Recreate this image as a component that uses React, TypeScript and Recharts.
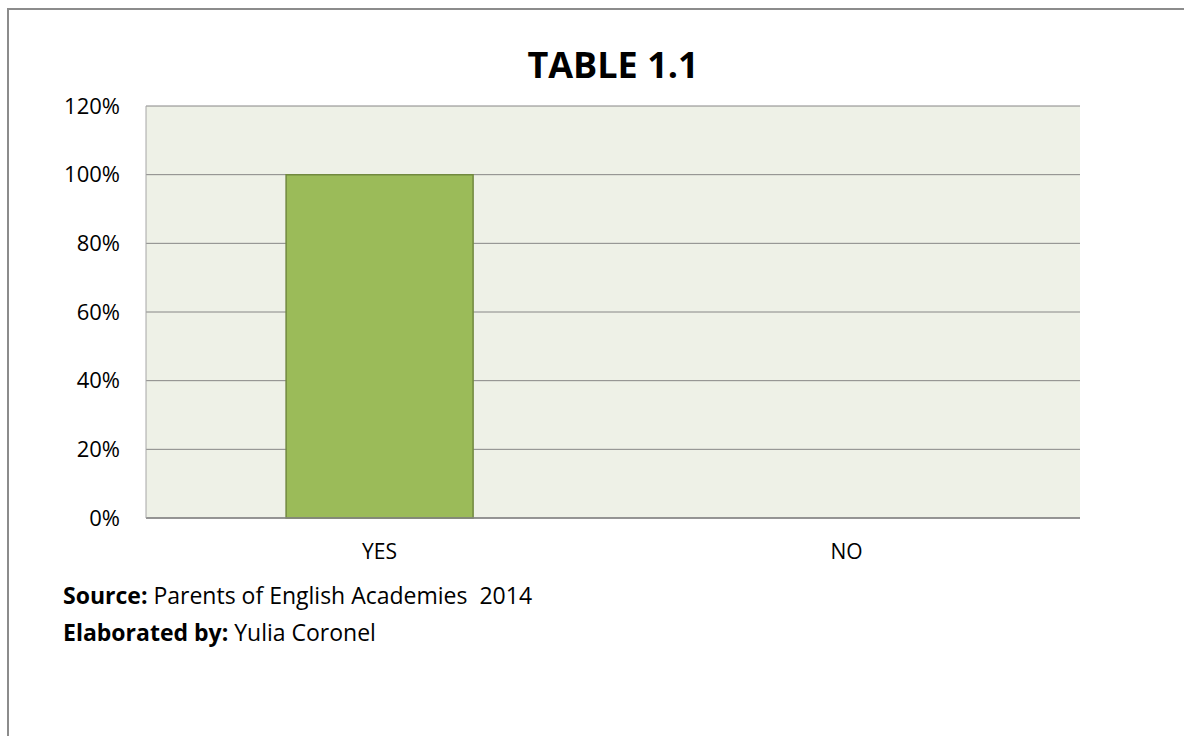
import { BarChart, Bar, XAxis, YAxis, CartesianGrid } from 'recharts';

const CATEGORIES = ['YES', 'NO'];
const SHARES = [1.0, 0];
const Y_TICKS = [0, 0.2, 0.4, 0.6, 0.8, 1.0, 1.2];

const data = CATEGORIES.map((name, i) => ({ name, value: SHARES[i] }));

const FONT = '"Open Sans", "Noto Sans", sans-serif';

export default function App() {
  return (
    <div
      style={{
        position: 'absolute',
        left: 0,
        top: 0,
        width: 1184,
        height: 736,
        overflow: 'hidden',
        background: '#fff',
        fontFamily: FONT,
        color: '#000',
      }}
    >
      {/* chart area frame (only top and left edges are in view) */}
      <div
        style={{
          position: 'absolute',
          left: 7,
          top: 8,
          width: 2000,
          height: 2000,
          borderLeft: '2px solid #8c8c8c',
          borderTop: '2px solid #8c8c8c',
        }}
      />

      <div
        style={{
          position: 'absolute',
          left: 413,
          width: 400,
          top: 41,
          textAlign: 'center',
          fontSize: 36,
          fontWeight: 700,
          lineHeight: '48px',
        }}
      >
        TABLE 1.1
      </div>

      <div style={{ position: 'absolute', left: 0, top: 0 }}>
        <BarChart
          width={1184}
          height={580}
          data={data}
          margin={{ top: 106, right: 104, bottom: 22, left: 46 }}
          barCategoryGap="30%"
        >
          <CartesianGrid vertical={false} stroke="#868686" fill="#EEF1E7" />
          <XAxis
            dataKey="name"
            height={40}
            axisLine={{ stroke: '#868686', strokeWidth: 1.5 }}
            tickLine={false}
            tickSize={0}
            tickMargin={26}
            tick={{ fill: '#000', fontSize: 21, fontFamily: FONT }}
          />
          <YAxis
            width={100}
            domain={[0, 1.2]}
            ticks={Y_TICKS}
            interval={0}
            axisLine={{ stroke: '#a6a6a6' }}
            tickLine={false}
            tickSize={24}
            tickMargin={2}
            tickFormatter={(v: number) => `${Math.round(v * 100)}%`}
            tick={{ fill: '#000', fontSize: 22, fontFamily: FONT }}
          />
          <Bar
            dataKey="value"
            fill="#9BBB59"
            stroke="#71893F"
            strokeWidth={1.5}
            isAnimationActive={false}
          />
        </BarChart>
      </div>

      <div
        style={{
          position: 'absolute',
          left: 63,
          top: 577,
          fontSize: 23,
          lineHeight: '37px',
          whiteSpace: 'pre',
        }}
      >
        <div>
          <b>Source:</b> Parents of English Academies  2014
        </div>
        <div>
          <b>Elaborated by:</b> Yulia Coronel
        </div>
      </div>
    </div>
  );
}
